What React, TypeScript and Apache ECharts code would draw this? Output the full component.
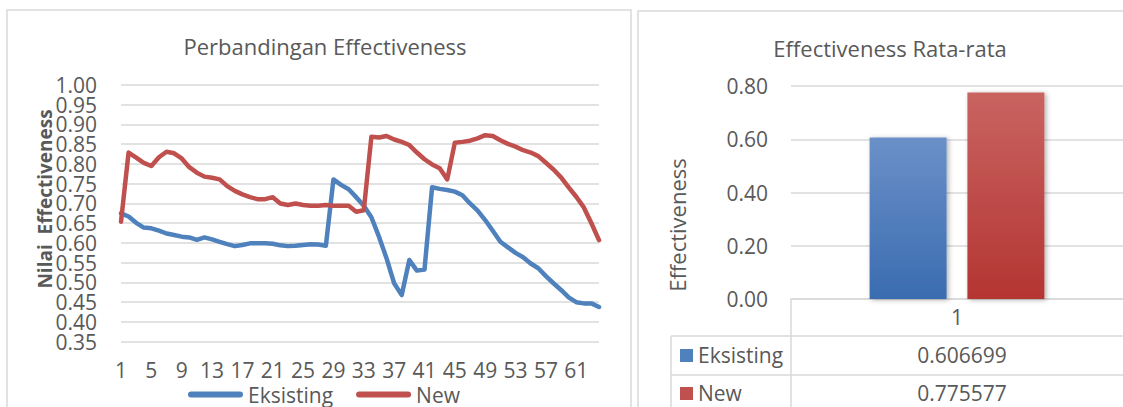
import React, { useEffect, useRef } from 'react';
import * as echarts from 'echarts';

const FONT = '"Open Sans", sans-serif';
const TEXT = '#595959';
const GRID = '#d9d9d9';
const BLUE = '#4f81bd';
const RED = '#c0504d';

// Observation index 1..64 for the comparison line chart
const points = Array.from({ length: 64 }, (_, i) => String(i + 1));

const eksisting = [
  0.675, 0.667, 0.651, 0.639, 0.637, 0.631, 0.624, 0.620, 0.616, 0.614,
  0.608, 0.614, 0.609, 0.603, 0.597, 0.592, 0.595, 0.599, 0.599, 0.599,
  0.598, 0.594, 0.592, 0.593, 0.595, 0.597, 0.596, 0.593, 0.761, 0.747,
  0.736, 0.716, 0.694, 0.665, 0.616, 0.561, 0.498, 0.468, 0.557, 0.530,
  0.533, 0.741, 0.737, 0.734, 0.730, 0.721, 0.700, 0.682, 0.658, 0.631,
  0.603, 0.589, 0.575, 0.564, 0.548, 0.536, 0.516, 0.498, 0.481, 0.462,
  0.450, 0.447, 0.447, 0.438,
];

const newValues = [
  0.654, 0.829, 0.816, 0.803, 0.795, 0.817, 0.831, 0.827, 0.814, 0.792,
  0.778, 0.768, 0.765, 0.761, 0.744, 0.732, 0.723, 0.716, 0.711, 0.711,
  0.716, 0.700, 0.696, 0.700, 0.696, 0.694, 0.694, 0.696, 0.694, 0.694,
  0.694, 0.679, 0.683, 0.869, 0.867, 0.871, 0.862, 0.856, 0.848, 0.829,
  0.812, 0.799, 0.789, 0.761, 0.854, 0.856, 0.859, 0.865, 0.873, 0.871,
  0.860, 0.851, 0.844, 0.835, 0.829, 0.820, 0.803, 0.786, 0.766, 0.741,
  0.717, 0.690, 0.650, 0.607,
];

const seriesNames = ['Eksisting', 'New'];

// Average effectiveness per scheme
const avgCategory = ['1'];
const avgEksisting = [0.606699];
const avgNew = [0.775577];

const barGradient = (top: string, bottom: string) =>
  new echarts.graphic.LinearGradient(0, 0, 0, 1, [
    { offset: 0, color: top },
    { offset: 1, color: bottom },
  ]);

const textStyle = { fontFamily: FONT, color: TEXT };

export default function App() {
  const ref = useRef<HTMLDivElement>(null);

  useEffect(() => {
    if (!ref.current) return;
    const chart = echarts.init(ref.current, undefined, { renderer: 'svg' });

    const tableText = (text: string, x: number, y: number, align = 'left') => ({
      type: 'text',
      x,
      y,
      style: { text, fontFamily: FONT, fontSize: 21, fill: TEXT, align, verticalAlign: 'middle' },
    });
    const hLine = (x1: number, x2: number, y: number) => ({
      type: 'line',
      shape: { x1, y1: y, x2, y2: y },
      style: { stroke: GRID, lineWidth: 1.5 },
    });
    const vLine = (x: number, y1: number, y2: number) => ({
      type: 'line',
      shape: { x1: x, y1, x2: x, y2 },
      style: { stroke: GRID, lineWidth: 1.5 },
    });

    chart.setOption({
      animation: false,
      backgroundColor: '#ffffff',
      title: [
        {
          text: 'Perbandingan Effectiveness',
          left: 320,
          top: 30,
          textAlign: 'center',
          textStyle: { ...textStyle, fontSize: 22, fontWeight: 'normal' },
        },
        {
          text: 'Effectiveness Rata-rata',
          left: 885,
          top: 32,
          textAlign: 'center',
          textStyle: { ...textStyle, fontSize: 22, fontWeight: 'normal' },
        },
      ],
      legend: {
        data: seriesNames,
        left: 183,
        top: 379,
        itemWidth: 55,
        itemHeight: 6,
        itemGap: 23,
        icon: 'path://M3,0 L52,0 A3,3 0 0 1 52,6 L3,6 A3,3 0 0 1 3,0 Z',
        textStyle: { ...textStyle, fontSize: 21, lineHeight: 20 },
      },
      grid: [
        // value range 0.30..1.05 so that 0.35 and 1.00 sit one step inside the plot edges
        { left: 121, top: 65.26, width: 478, height: 296.18 },
        { left: 791, top: 86, width: 342, height: 213 },
      ],
      xAxis: [
        {
          gridIndex: 0,
          type: 'category',
          data: points,
          boundaryGap: false,
          axisLine: { show: false },
          axisTick: { show: false },
          splitLine: { show: false },
          axisLabel: { ...textStyle, interval: 3, fontSize: 21, lineHeight: 18, margin: 0 },
        },
        {
          gridIndex: 1,
          type: 'category',
          data: avgCategory,
          axisLine: { lineStyle: { color: GRID, width: 1.5 } },
          axisTick: { show: false },
          axisLabel: { ...textStyle, fontSize: 21, margin: 7 },
        },
      ],
      yAxis: [
        {
          gridIndex: 0,
          type: 'value',
          min: 0.3,
          max: 1.05,
          interval: 0.05,
          axisLine: { show: false },
          axisTick: { show: false },
          splitLine: {
            showMinLine: false,
            showMaxLine: false,
            lineStyle: { color: GRID, width: 1.5 },
          },
          axisLabel: {
            ...textStyle,
            fontSize: 21,
            lineHeight: 18,
            margin: 24,
            showMinLabel: false,
            showMaxLabel: false,
            formatter: (v: number) => v.toFixed(2),
          },
        },
        {
          gridIndex: 1,
          type: 'value',
          min: 0,
          max: 0.8,
          interval: 0.2,
          axisLine: { show: false },
          axisTick: { show: false },
          splitLine: { lineStyle: { color: GRID, width: 1.5 } },
          axisLabel: { ...textStyle, fontSize: 21, margin: 23, formatter: (v: number) => v.toFixed(2) },
        },
      ],
      series: [
        {
          name: seriesNames[0],
          type: 'line',
          xAxisIndex: 0,
          yAxisIndex: 0,
          data: eksisting,
          symbol: 'none',
          color: BLUE,
          lineStyle: { width: 4.5, color: BLUE, cap: 'round', join: 'round' },
        },
        {
          name: seriesNames[1],
          type: 'line',
          xAxisIndex: 0,
          yAxisIndex: 0,
          data: newValues,
          symbol: 'none',
          color: RED,
          lineStyle: { width: 4.5, color: RED, cap: 'round', join: 'round' },
        },
        {
          name: seriesNames[0],
          type: 'bar',
          xAxisIndex: 1,
          yAxisIndex: 1,
          data: avgEksisting,
          barWidth: 77,
          barGap: '27%',
          itemStyle: {
            color: barGradient('#6b90c8', '#3a6cb0'),
            shadowColor: 'rgba(0,0,0,0.3)',
            shadowBlur: 5,
            shadowOffsetX: 2,
            shadowOffsetY: 1,
          },
        },
        {
          name: seriesNames[1],
          type: 'bar',
          xAxisIndex: 1,
          yAxisIndex: 1,
          data: avgNew,
          barWidth: 77,
          barGap: '27%',
          itemStyle: {
            color: barGradient('#c96461', '#b43532'),
            shadowColor: 'rgba(0,0,0,0.3)',
            shadowBlur: 5,
            shadowOffsetX: 2,
            shadowOffsetY: 1,
          },
        },
      ],
      graphic: [
        // panel frames
        {
          type: 'rect',
          shape: { x: 7, y: 10, width: 624, height: 420 },
          style: { fill: 'none', stroke: GRID, lineWidth: 1.5 },
        },
        {
          type: 'rect',
          shape: { x: 638, y: 11, width: 520, height: 420 },
          style: { fill: 'none', stroke: GRID, lineWidth: 1.5 },
        },
        // axis titles
        {
          type: 'text',
          x: 45,
          y: 199,
          rotation: Math.PI / 2,
          style: {
            text: 'Nilai  Effectiveness',
            fontFamily: FONT,
            fontSize: 19,
            fontWeight: 'bold',
            fill: TEXT,
            align: 'center',
            verticalAlign: 'middle',
          },
        },
        {
          type: 'text',
          x: 677,
          y: 225,
          rotation: Math.PI / 2,
          style: {
            text: 'Effectiveness',
            fontFamily: FONT,
            fontSize: 22,
            fill: TEXT,
            align: 'center',
            verticalAlign: 'middle',
          },
        },
        // data table under the bar chart
        vLine(791, 299, 420),
        vLine(671, 336, 420),
        hLine(671, 1130, 336),
        hLine(671, 1130, 375),
        { type: 'rect', shape: { x: 680, y: 349, width: 13, height: 13 }, style: { fill: BLUE } },
        { type: 'rect', shape: { x: 680, y: 387, width: 13, height: 13 }, style: { fill: RED } },
        tableText(seriesNames[0], 698, 355),
        tableText(seriesNames[1], 698, 393),
        tableText(avgEksisting[0].toFixed(6), 962, 355, 'center'),
        tableText(avgNew[0].toFixed(6), 962, 393, 'center'),
      ],
    });

    return () => chart.dispose();
  }, []);

  return (
    <div
      ref={ref}
      style={{ position: 'fixed', left: 0, top: 0, width: 1123, height: 407, background: '#fff' }}
    />
  );
}
